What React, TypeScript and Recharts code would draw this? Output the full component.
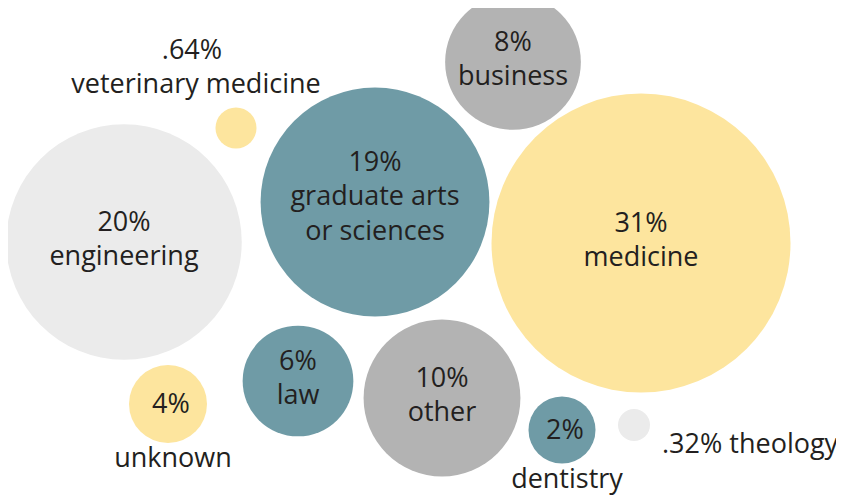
import React from 'react'
import { Scatter, ScatterChart, XAxis, YAxis, ZAxis } from 'recharts'

// data
const categories = [
    'medicine',
    'engineering',
    'graduate arts\nor sciences',
    'other',
    'business',
    'law',
    'unknown',
    'dentistry',
    'veterinary medicine',
    'theology',
]
const shares = [31, 20, 19, 10, 8, 6, 4, 2, 0.64, 0.32]

// bubble layout (packing positions on a 844 x 497 grid)
const posX = [641, 124, 375, 442, 513, 298, 168, 562, 236, 634]
const posY = [243, 242, 202, 398, 62, 381, 404, 430, 128, 425]

const YELLOW = '#fde59e'
const TEAL = '#6f9ba6'
const GRAY = '#b3b3b3'
const LIGHT = '#ebebeb'
const fills = [YELLOW, LIGHT, TEAL, GRAY, GRAY, TEAL, YELLOW, TEAL, YELLOW, LIGHT]
const placement = ['inside', 'inside', 'inside', 'inside', 'inside', 'inside', 'below', 'below', 'above', 'right']

const TEXT = '#231f20'
const FONT = "'Open Sans', sans-serif"
const LINE = 34.5

const fmtPct = (v: number) => (v < 1 ? String(v).replace(/^0/, '') : String(v)) + '%'

const rows = categories.map((name, i) => ({
    name,
    share: shares[i],
    x: posX[i],
    y: posY[i],
    fill: fills[i],
    place: placement[i],
}))
const major = rows.filter(r => r.share >= 4)
const minor = rows.filter(r => r.share < 4)

const Bubble = (props: any) => {
    const { cx, cy, width, payload } = props
    const r = width / 2
    const pct = fmtPct(payload.share)
    const txt = { fill: TEXT, fontFamily: FONT, fontSize: 27 }
    let labels: React.ReactNode = null

    if (payload.place === 'inside') {
        const lines = [pct, ...payload.name.split('\n')]
        const mid = cy + 9 - 3 * (lines.length - 1)
        labels = lines.map((l: string, i: number) => (
            <text key={i} x={cx} y={mid + (i - (lines.length - 1) / 2) * LINE} textAnchor='middle' {...txt}>{l}</text>
        ))
    } else if (payload.place === 'below') {
        labels = (
            <>
                <text x={cx + 3} y={cy + 9} textAnchor='middle' {...txt}>{pct}</text>
                <text x={cx + 5} y={cy + r + 24} textAnchor='middle' {...txt}>{payload.name}</text>
            </>
        )
    } else if (payload.place === 'above') {
        labels = (
            <>
                <text x={cx - 44} y={cy - 35 - LINE} textAnchor='middle' {...txt}>{pct}</text>
                <text x={cx - 40} y={cy - 35} textAnchor='middle' {...txt}>{payload.name}</text>
            </>
        )
    } else {
        labels = <text x={cx + 28} y={cy + 28} textAnchor='start' {...txt}>{pct + ' ' + payload.name}</text>
    }

    return (
        <g>
            <circle cx={cx} cy={cy} r={r} fill={payload.fill} />
            {labels}
        </g>
    )
}

export default function App() {
    return (
        <div style={{ margin: '-8px 0 0 -8px', width: 844, height: 497, background: '#fff' }}>
            <ScatterChart width={844} height={497} margin={{ top: 0, right: 0, bottom: 0, left: 0 }}>
                <XAxis type='number' dataKey='x' domain={[0, 844]} allowDataOverflow hide />
                <YAxis type='number' dataKey='y' domain={[0, 497]} allowDataOverflow reversed hide />
                <ZAxis zAxisId='major' type='number' dataKey='share' domain={[4, 31]} range={[4778, 70215]} />
                <ZAxis zAxisId='minor' type='number' dataKey='share' domain={[0.32, 2]} range={[804, 3526]} />
                <Scatter data={major} zAxisId='major' shape={Bubble} isAnimationActive={false} />
                <Scatter data={minor} zAxisId='minor' shape={Bubble} isAnimationActive={false} />
            </ScatterChart>
        </div>
    )
}
